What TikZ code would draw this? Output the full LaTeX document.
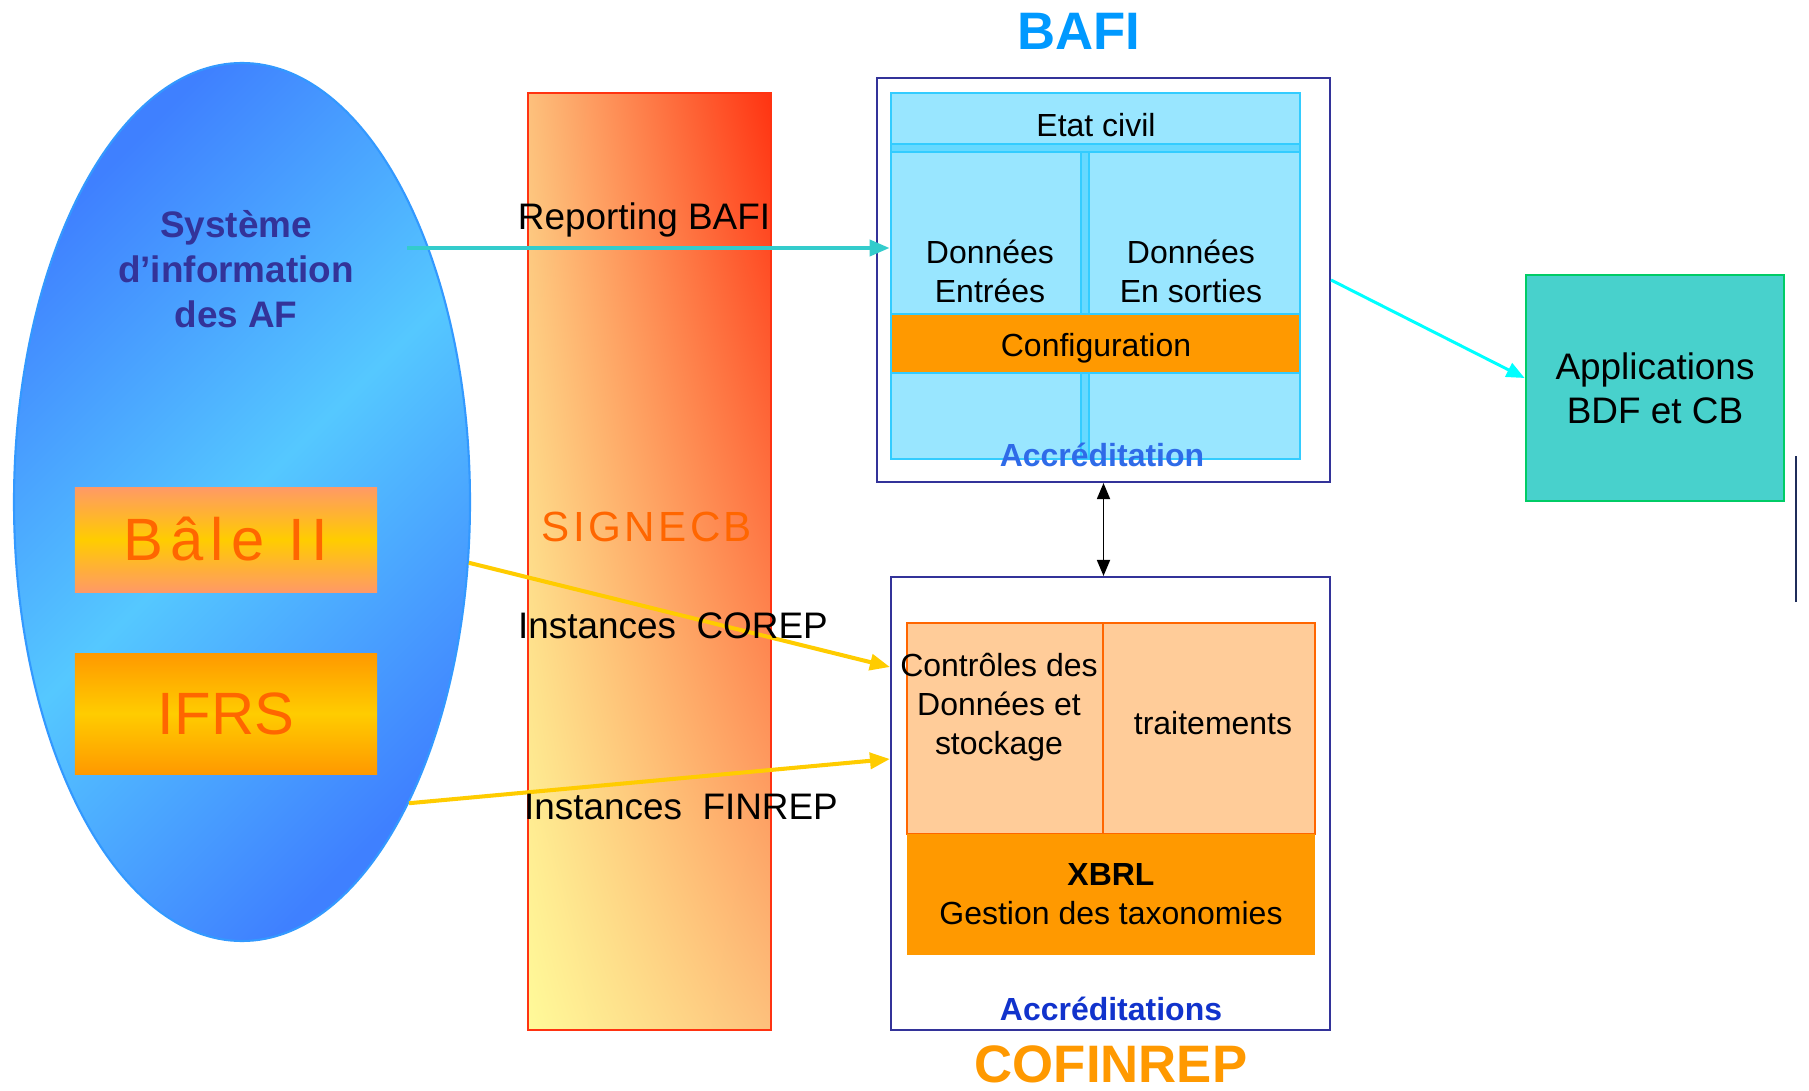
\documentclass[tikz,border=0pt]{standalone}
\usepackage{fontspec}
\setmainfont{Liberation Sans}
\newfontfamily\widefont[LetterSpace=8]{Liberation Sans}
\newfontfamily\widerfont[LetterSpace=12]{Liberation Sans}
\usetikzlibrary{arrows.meta,shapes.geometric,shadings,positioning,calc}
\definecolor{sidark}{HTML}{3F80FF}
\definecolor{silight}{HTML}{55C8FF}
\definecolor{siedge}{HTML}{3399FF}
\definecolor{sitext}{HTML}{333399}
\definecolor{signered}{HTML}{FF3311}
\definecolor{signeyel}{HTML}{FFFA99}
\definecolor{signemid}{HTML}{FDC07C}
\definecolor{signeorg}{HTML}{FF6600}
\definecolor{salmon}{HTML}{FF9966}
\definecolor{gold}{HTML}{FFCC00}
\definecolor{orangeb}{HTML}{FF9900}
\definecolor{bafiblue}{HTML}{0099FF}
\definecolor{framec}{HTML}{333399}
\definecolor{skyfill}{HTML}{99E6FF}
\definecolor{skymid}{HTML}{66D9FF}
\definecolor{skyline}{HTML}{33CCFF}
\definecolor{peach}{HTML}{FFCC99}
\definecolor{accblue}{HTML}{2F6BE8}
\definecolor{accdark}{HTML}{1133CC}
\definecolor{turq}{HTML}{48D1CC}
\definecolor{appgreen}{HTML}{00CC66}
\definecolor{tealarr}{HTML}{33CCCC}
\definecolor{brightcyan}{HTML}{00FFFF}
\definecolor{navy}{HTML}{1F2D5A}

\begin{document}
\begin{tikzpicture}[
  box/.style={rectangle, inner sep=0pt},
  outerbox/.style={box, draw=framec, line width=0.6pt},
  txt/.style={font=\fontsize{9.1}{11.1}\selectfont, align=center, inner sep=0pt},
  big/.style={font=\fontsize{10.5}{12.5}\selectfont, align=center, inner sep=0pt},
  title/.style={font=\bfseries\fontsize{15}{15}\selectfont, inner sep=0pt},
  flow/.style={line width=1.15pt, -{Triangle[length=2mm,width=1.6mm]}},
]
\useasboundingbox (0,0) rectangle (18.09,10.90);
% systeme d'information
\node[ellipse, minimum width=4.56cm, minimum height=8.78cm, inner sep=0pt, draw=siedge, line width=0.6pt,
  left color=sidark, right color=sidark, middle color=silight, shading angle=45] (si) at (2.42,5.88) {};
\node[font=\bfseries\fontsize{10.5}{12.8}\selectfont, text=sitext, align=center] (sitxt) at (2.36,8.21) {Système\\d’information\\des AF};
\node[box, minimum width=3.02cm, minimum height=1.05cm, top color=salmon, bottom color=salmon, middle color=gold,
  text=signeorg, font=\widerfont\fontsize{17}{17}\selectfont] (bale) at (2.26,5.505) {Bâle II};
\node[box, minimum width=3.02cm, minimum height=1.21cm, top color=orangeb, bottom color=orangeb, middle color=gold,
  text=signeorg, font=\fontsize{17}{17}\selectfont] (ifrs) at (2.26,3.765) {IFRS};
% SIGNECB
\node[box, minimum width=2.43cm, minimum height=9.37cm, draw=signered, line width=0.6pt,
  upper left=signemid, upper right=signered, lower left=signeyel, lower right=signemid] (signe) at (6.495,5.285) {};
\node[text=signeorg, font=\widefont\fontsize{12}{12}\selectfont] (signetxt) at (6.47,5.63) {SIGNECB};
% BAFI
\node[title, text=bafiblue] (bafititle) at (10.79,10.59) {BAFI};
\node[outerbox, minimum width=4.53cm, minimum height=4.04cm] (bafi) at (11.035,8.10) {};
\node[box, minimum width=4.09cm, minimum height=3.66cm, fill=skyfill, draw=skyline, line width=0.8pt] (bafiin) at (10.955,8.14) {};
\draw[fill=skymid, draw=skyline, line width=0.6pt] (10.81,6.31) rectangle (10.89,9.38);
\draw[fill=skymid, draw=skyline, line width=0.6pt] (8.91,9.38) rectangle (13.00,9.46);
\node[box, minimum width=4.09cm, minimum height=0.59cm, fill=orangeb, draw=skyline, line width=0.5pt] (config) at (10.955,7.465) {};
\node[txt] (configtxt) at (10.96,7.42) {Configuration};
\node[txt] (etat) at (10.96,9.65) {Etat civil};
\node[txt] (entrees) at (9.90,8.19) {Données\\Entrées};
\node[txt] (sorties) at (11.91,8.19) {Données\\En sorties};
\node[font=\bfseries\fontsize{9.1}{9.1}\selectfont, text=accblue] (acc) at (11.02,6.35) {Accréditation};
% COFINREP
\node[outerbox, minimum width=4.39cm, minimum height=4.53cm] (cofi) at (11.105,2.865) {};
\node[box, minimum width=4.08cm, minimum height=2.11cm, fill=peach, draw=signeorg, line width=0.6pt] (cofiin) at (11.11,3.615) {};
\draw[signeorg, line width=0.6pt] (11.03,4.67) -- (11.03,2.56);
\node[box, txt, minimum width=4.08cm, minimum height=1.21cm, fill=orangeb] (xbrl) at (11.11,1.955) {\textbf{XBRL}\\Gestion des taxonomies};
\node[txt] (ctrl) at (9.99,3.83) {Contrôles des\\Données et\\stockage};
\node[txt] (trait) at (12.13,3.67) {traitements};
\node[font=\bfseries\fontsize{9.1}{9.1}\selectfont, text=accdark] (accs) at (11.11,0.81) {Accréditations};
\node[title, text=orangeb] (cofititle) at (11.11,0.26) {COFINREP};
% applications
\node[box, big, minimum width=2.58cm, minimum height=2.26cm, fill=turq, draw=appgreen, line width=0.8pt] (appl) at (16.55,7.02) {Applications\\BDF et CB};
\draw[navy, line width=0.4pt] (17.96,4.88) -- (17.96,6.34);
% flux
\coordinate (rb) at (4.07,8.42);
\draw[flow, tealarr] (rb) -- (rb -| bafiin.west);
\draw[flow, gold] (si.-15) -- ([yshift=13.65mm]cofi.west);
\draw[flow, gold] (si.-61) -- ([yshift=4.45mm]cofi.west);
\draw[brightcyan, line width=0.85pt, -{Triangle[length=1.8mm,width=1.5mm]}] (bafi.east) -- ([yshift=1mm]appl.west);
\draw[{Triangle[length=1.6mm,width=1.3mm]}-{Triangle[length=1.6mm,width=1.3mm]}, line width=0.5pt] (bafi.south) -- (bafi.south |- cofi.north);
\node[big] (repbafi) at (6.44,8.70) {Reporting BAFI};
\node[big] (corep) at (6.73,4.64) {Instances~~COREP};
\node[big] (finrep) at (6.81,2.83) {Instances~~FINREP};
\end{tikzpicture}
\end{document}
